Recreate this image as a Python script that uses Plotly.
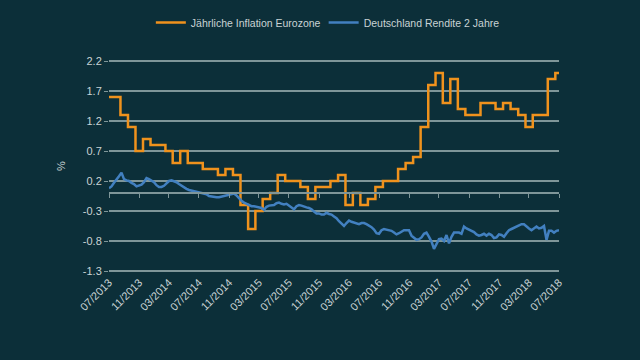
import pandas as pd
import plotly.graph_objects as go

# ---- data ----
inflation_months = pd.date_range("2013-07-01", periods=61, freq="MS")
inflation_values = [
    1.6, 1.6, 1.3, 1.1, 0.7, 0.9, 0.8, 0.8, 0.7, 0.5, 0.7, 0.5, 0.5,
    0.4, 0.4, 0.3, 0.4, 0.3, -0.2, -0.6, -0.3, -0.1, 0.0, 0.3, 0.2,
    0.2, 0.1, -0.1, 0.1, 0.1, 0.2, 0.3, -0.2, 0.0, -0.2, -0.1, 0.1,
    0.2, 0.2, 0.4, 0.5, 0.6, 1.1, 1.8, 2.0, 1.5, 1.9, 1.4, 1.3,
    1.3, 1.5, 1.5, 1.4, 1.5, 1.4, 1.3, 1.1, 1.3, 1.3, 1.9, 2.0,
]

yield_dates = pd.date_range("2013-07-01", "2018-07-01", periods=181)
yield_values = [
    0.08, 0.11, 0.17, 0.22, 0.28, 0.34, 0.23, 0.21, 0.20, 0.17,
    0.15, 0.11, 0.12, 0.14, 0.18, 0.25, 0.23, 0.21, 0.18, 0.13,
    0.10, 0.10, 0.12, 0.16, 0.20, 0.21, 0.20, 0.18, 0.15, 0.12,
    0.09, 0.07, 0.05, 0.04, 0.03, 0.02, 0.01, 0.00, -0.01, -0.02,
    -0.05, -0.06, -0.07, -0.07, -0.07, -0.06, -0.05, -0.04, -0.03, -0.02,
    -0.01, -0.04, -0.09, -0.13, -0.16, -0.18, -0.20, -0.22, -0.22, -0.23,
    -0.24, -0.25, -0.28, -0.23, -0.21, -0.20, -0.20, -0.17, -0.16, -0.18,
    -0.19, -0.18, -0.21, -0.24, -0.27, -0.22, -0.20, -0.21, -0.23, -0.24,
    -0.25, -0.27, -0.31, -0.34, -0.34, -0.36, -0.36, -0.33, -0.35, -0.36,
    -0.39, -0.42, -0.47, -0.51, -0.55, -0.50, -0.46, -0.48, -0.49, -0.51,
    -0.52, -0.50, -0.50, -0.52, -0.54, -0.57, -0.61, -0.67, -0.68, -0.62,
    -0.60, -0.61, -0.62, -0.63, -0.66, -0.69, -0.67, -0.65, -0.62, -0.62,
    -0.62, -0.71, -0.75, -0.78, -0.77, -0.74, -0.68, -0.66, -0.73, -0.81,
    -0.93, -0.85, -0.77, -0.76, -0.80, -0.70, -0.84, -0.73, -0.66, -0.66,
    -0.66, -0.68, -0.56, -0.59, -0.61, -0.63, -0.65, -0.69, -0.71, -0.70,
    -0.68, -0.71, -0.68, -0.70, -0.75, -0.74, -0.69, -0.70, -0.73, -0.67,
    -0.62, -0.60, -0.58, -0.55, -0.53, -0.52, -0.52, -0.56, -0.59, -0.62,
    -0.59, -0.56, -0.59, -0.58, -0.55, -0.78, -0.63, -0.63, -0.66, -0.63,
    -0.62,
]

y_ticks = [-1.3, -0.8, -0.3, 0.2, 0.7, 1.2, 1.7, 2.2]
y_pad = 2 / 60  # keep edge gridlines just inside the plot area
y_range = [y_ticks[0] - y_pad, y_ticks[-1] + y_pad]
x_start, x_end = "2013-07-01", "2018-07-01"

BG = "#0c2f39"
GRID = "#7f9699"
TXT = "#c9d3d5"
ORANGE = "#f0921d"
BLUE = "#4280c0"

fig = go.Figure()
fig.add_trace(go.Scatter(
    x=inflation_months, y=inflation_values, mode="lines",
    line=dict(color=ORANGE, width=2.5, shape="hvh"),
    name="Jährliche Inflation Eurozone", legend="legend",
))
fig.add_trace(go.Scatter(
    x=yield_dates, y=yield_values, mode="lines",
    line=dict(color=BLUE, width=2.5),
    name="Deutschland Rendite 2 Jahre", legend="legend2",
))
# invisible helper trace so the zero-line axis (x2) is drawn
fig.add_trace(go.Scatter(
    x=inflation_months, y=inflation_values, xaxis="x2", mode="lines",
    line=dict(color="rgba(0,0,0,0)"), showlegend=False, hoverinfo="skip",
))

zero_pos = (0 - y_range[0]) / (y_range[1] - y_range[0])

legend_common = dict(
    orientation="h", xanchor="left", yanchor="middle", y=1.17,
    font=dict(size=10.5, color=TXT), bgcolor="rgba(0,0,0,0)",
)

fig.update_layout(
    width=640, height=360,
    margin=dict(l=109, r=81, t=59, b=87, autoexpand=False),
    paper_bgcolor=BG, plot_bgcolor=BG,
    font=dict(family="Liberation Sans, Arial, sans-serif", size=11, color=TXT),
    showlegend=True,
    legend=dict(x=0.093, **legend_common),
    legend2=dict(x=0.477, **legend_common),
    xaxis=dict(
        type="date", range=[x_start, x_end],
        tick0=x_start, dtick="M4", tickformat="%m/%Y", tickangle=-45,
        showgrid=False, showline=False, zeroline=False, ticks="",
        tickfont=dict(size=11, color=TXT),
    ),
    xaxis2=dict(
        type="date", overlaying="x", matches="x", anchor="free",
        position=zero_pos, side="bottom",
        tick0=x_start, dtick="M4", showticklabels=False,
        showline=True, linecolor=GRID, linewidth=2,
        ticks="outside", ticklen=4, tickwidth=1, tickcolor=GRID,
        showgrid=False, zeroline=False,
    ),
    yaxis=dict(
        range=y_range, tickvals=y_ticks,
        ticktext=[f"{v:.1f}" for v in y_ticks],
        showgrid=True, gridcolor=GRID, gridwidth=2,
        zeroline=False, showline=False,
        ticks="outside", ticklen=4, tickcolor=GRID,
        tickfont=dict(size=11, color=TXT),
        title=dict(text="%", font=dict(size=11, color=TXT), standoff=14),
    ),
)

fig.write_html(
    "out.html",
    config={"displayModeBar": False},
    post_script="document.body.style.margin='0';"
                "document.body.style.background='" + BG + "';",
)
